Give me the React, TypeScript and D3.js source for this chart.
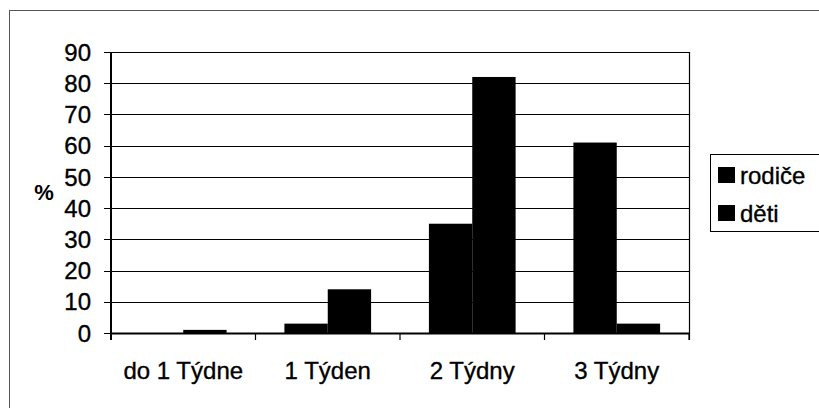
import React from "react";
import * as d3 from "d3";

const categories = ["do 1 Týdne", "1 Týden", "2 Týdny", "3 Týdny"];
const seriesNames = ["rodiče", "děti"];
const rodice = [0, 3, 35, 61];
const deti = [1, 14, 82, 3];
const yTicks = [0, 10, 20, 30, 40, 50, 60, 70, 80, 90];
const seriesColors = ["#000000", "#000000"];

export default function App() {
  const W = 819, H = 408;
  const left = 111, right = 689, top = 52, bottom = 333;
  const x = d3.scaleBand<string>().domain(categories).range([left, right]).padding(0);
  const bw = x.bandwidth();
  const xs = d3.scaleBand<string>().domain(seriesNames).range([bw * 0.2, bw * 0.8]).padding(0);
  const y = d3.scaleLinear().domain([0, 90]).range([bottom, top]);
  const values = [rodice, deti];
  const font = "Liberation Sans, Arial, sans-serif";
  const textStyle = { stroke: "#000", strokeWidth: 0.35 } as React.CSSProperties;

  return (
    <svg width={W} height={H} style={{ position: "absolute", left: 0, top: 0, background: "#fff" }}>
      <rect x={0} y={0} width={W} height={H} fill="#fff" />
      {/* outer frame */}
      <rect x={9.5} y={10.5} width={W + 20} height={H + 20} fill="none" stroke="#555" strokeWidth={1} />
      {/* gridlines */}
      {yTicks.map((t) => (
        <line key={"g" + t} x1={left - 7} x2={right} y1={Math.round(y(t)) + 0.5} y2={Math.round(y(t)) + 0.5} stroke="#000" strokeWidth={1.2} />
      ))}
      {/* right border */}
      <line x1={right + 0.5} x2={right + 0.5} y1={top} y2={bottom + 7} stroke="#000" strokeWidth={1.2} />
      {/* bars */}
      {values.map((vals, si) =>
        categories.map((c, ci) => {
          const v = vals[ci];
          if (v <= 0) return null;
          const bx = (x(c) as number) + (xs(seriesNames[si]) as number);
          return (
            <rect key={si + "-" + ci} x={bx} y={y(v)} width={xs.bandwidth()} height={y(0) - y(v)} fill={seriesColors[si]} />
          );
        })
      )}
      {/* axes */}
      <line x1={left} x2={left} y1={top} y2={bottom + 7} stroke="#000" strokeWidth={2} />
      <line x1={left} x2={right} y1={bottom + 0.5} y2={bottom + 0.5} stroke="#000" strokeWidth={2} />
      {categories.map((c) => (
        <line key={"t" + c} x1={(x(c) as number) + bw} x2={(x(c) as number) + bw} y1={bottom} y2={bottom + 7} stroke="#000" strokeWidth={1.2} />
      ))}
      {/* y tick labels */}
      {yTicks.map((t) => (
        <text key={"l" + t} x={91} y={y(t)} dy="0.36em" textAnchor="end" fontFamily={font} fontSize={24} fill="#000" style={textStyle}>
          {t}
        </text>
      ))}
      {/* category labels */}
      {categories.map((c) => (
        <text key={"c" + c} x={(x(c) as number) + bw / 2} y={379} textAnchor="middle" fontFamily={font} fontSize={24} fill="#000" style={textStyle}>
          {c}
        </text>
      ))}
      {/* y axis title */}
      <text x={44} y={200} textAnchor="middle" fontFamily={font} fontSize={22} fontWeight="bold" fill="#000">%</text>
      {/* legend */}
      <rect x={710.5} y={154.5} width={120} height={77} fill="#fff" stroke="#000" strokeWidth={1} />
      {seriesNames.map((s, i) => (
        <g key={"lg" + s}>
          <rect x={718} y={167 + i * 38} width={17} height={16} fill={seriesColors[i]} />
          <text x={740} y={184 + i * 38} fontFamily={font} fontSize={24} fill="#000" style={textStyle}>{s}</text>
        </g>
      ))}
    </svg>
  );
}
